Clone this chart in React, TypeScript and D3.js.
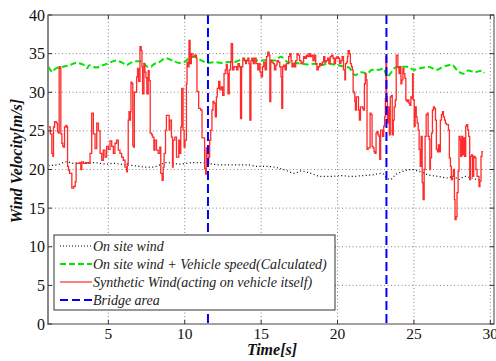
import React, { useRef, useEffect } from 'react';
import * as d3 from 'd3';

// Synthetic wind (red), time [s] / velocity [m/s]
const synT = [
  1.09, 1.2, 1.3, 1.37, 1.41, 1.48, 1.59, 1.67, 1.74, 1.78, 1.85, 1.89, 1.96, 2.02, 2.07, 2.13, 2.22, 2.28, 2.33, 2.39,
  2.46, 2.61, 2.72, 2.83, 2.89, 2.98, 3.11, 3.2, 3.26, 3.37, 3.5, 3.7, 3.8, 3.91, 4.02, 4.13, 4.24, 4.35, 4.46, 4.57,
  4.67, 4.78, 4.89, 5.0, 5.11, 5.22, 5.33, 5.43, 5.54, 5.65, 5.76, 5.87, 5.98, 6.09, 6.2, 6.24, 6.3, 6.35, 6.4, 6.45,
  6.48, 6.55, 6.6, 6.65, 6.7, 6.85, 6.91, 6.98, 7.07, 7.15, 7.2, 7.24, 7.33, 7.39, 7.46, 7.52, 7.61, 7.67, 7.74, 7.83,
  7.89, 7.98, 8.04, 8.15, 8.26, 8.37, 8.43, 8.52, 8.59, 8.65, 8.74, 8.8, 8.91, 8.98, 9.02, 9.13, 9.2, 9.24, 9.35, 9.46,
  9.61, 9.67, 9.74, 9.8, 9.89, 9.96, 10.02, 10.11, 10.15, 10.22, 10.28, 10.35, 10.43, 10.54, 10.65, 10.76, 10.8, 10.91, 11.04, 11.13,
  11.22, 11.3, 11.37, 11.41, 11.48, 11.52, 11.57, 11.63, 11.7, 11.78, 11.85, 11.91, 12.0, 12.07, 12.13, 12.22, 12.3, 12.39, 12.48, 12.57,
  12.65, 12.72, 12.78, 12.83, 12.91, 13.0, 13.04, 13.13, 13.22, 13.3, 13.39, 13.48, 13.57, 13.65, 13.72, 13.8, 13.91, 13.98, 14.04, 14.13,
  14.2, 14.26, 14.33, 14.39, 14.48, 14.57, 14.67, 14.78, 14.87, 14.93, 15.0, 15.09, 15.17, 15.26, 15.35, 15.43, 15.52, 15.57, 15.63, 15.7,
  15.78, 15.87, 15.96, 16.04, 16.13, 16.22, 16.3, 16.35, 16.41, 16.48, 16.57, 16.65, 16.74, 16.8, 16.87, 16.96, 17.02, 17.09, 17.17, 17.26,
  17.35, 17.43, 17.52, 17.61, 17.7, 17.78, 17.87, 17.96, 18.04, 18.13, 18.22, 18.3, 18.39, 18.48, 18.57, 18.65, 18.74, 18.83, 18.91, 19.0,
  19.09, 19.17, 19.26, 19.35, 19.43, 19.52, 19.61, 19.7, 19.78, 19.87, 19.96, 20.04, 20.13, 20.22, 20.3, 20.39, 20.48, 20.52, 20.6, 20.65,
  20.69, 20.78, 20.84, 20.91, 20.97, 21.02, 21.08, 21.13, 21.17, 21.23, 21.3, 21.37, 21.43, 21.5, 21.56, 21.65, 21.69, 21.76, 21.82, 21.87,
  21.93, 22.0, 22.06, 22.13, 22.19, 22.26, 22.32, 22.39, 22.45, 22.52, 22.58, 22.65, 22.71, 22.76, 22.82, 22.89, 22.95, 23.02, 23.08, 23.13,
  23.17, 23.21, 23.26, 23.3, 23.34, 23.39, 23.45, 23.52, 23.58, 23.65, 23.71, 23.78, 23.84, 23.91, 23.95, 24.02, 24.08, 24.15, 24.21, 24.28,
  24.34, 24.41, 24.47, 24.54, 24.6, 24.67, 24.73, 24.8, 24.87, 24.91, 24.95, 25.02, 25.08, 25.15, 25.21, 25.28, 25.34, 25.41, 25.47, 25.54,
  25.6, 25.67, 25.73, 25.8, 25.87, 25.93, 26.0, 26.04, 26.08, 26.15, 26.21, 26.28, 26.34, 26.41, 26.47, 26.54, 26.6, 26.67, 26.73, 26.8,
  26.87, 26.93, 27.0, 27.06, 27.13, 27.19, 27.26, 27.32, 27.39, 27.45, 27.52, 27.58, 27.65, 27.69, 27.76, 27.82, 27.89, 27.95, 28.02, 28.06,
  28.13, 28.19, 28.26, 28.32, 28.39, 28.45, 28.52, 28.58, 28.65, 28.71, 28.78, 28.84, 28.91, 29.0, 29.06, 29.13, 29.19, 29.26, 29.32, 29.39,
  29.45, 29.52,
];
const synV = [
  25.5, 24.6, 22.1, 21.7, 25.5, 26.2, 26.0, 24.9, 24.7, 33.3, 33.1, 24.6, 23.4, 23.0, 22.9, 25.5, 25.7, 25.5, 20.4, 19.9,
  19.5, 17.6, 17.8, 18.4, 20.8, 20.8, 20.9, 20.0, 21.0, 20.8, 20.9, 20.8, 22.1, 27.3, 24.6, 22.7, 26.0, 25.0, 22.1, 21.2,
  22.5, 21.6, 23.0, 22.6, 23.7, 23.0, 22.1, 23.4, 23.8, 22.5, 22.1, 21.6, 21.2, 20.3, 19.7, 20.8, 26.4, 27.5, 26.4, 27.5,
  31.3, 31.1, 23.1, 22.9, 30.0, 32.0, 33.1, 31.4, 35.9, 35.4, 33.3, 29.8, 33.7, 32.6, 31.9, 29.8, 32.8, 31.5, 24.7, 24.5,
  24.2, 22.5, 23.8, 22.5, 22.1, 22.9, 19.5, 18.6, 20.3, 22.1, 25.1, 27.0, 27.0, 25.1, 26.4, 24.2, 20.3, 23.8, 24.2, 21.6,
  23.8, 22.1, 25.5, 30.5, 25.1, 22.9, 23.8, 31.1, 33.9, 33.3, 36.7, 33.7, 35.0, 34.6, 34.8, 34.4, 30.1, 27.9, 27.7, 24.1,
  24.1, 20.1, 19.4, 22.8, 22.8, 20.8, 21.6, 23.8, 25.1, 27.7, 28.8, 28.6, 26.8, 29.4, 30.5, 31.4, 30.3, 30.7, 29.6, 32.4,
  32.9, 33.6, 32.4, 29.8, 32.9, 33.9, 36.3, 32.9, 33.3, 33.3, 32.9, 33.7, 33.3, 26.6, 33.3, 34.4, 34.1, 33.7, 34.1, 34.4,
  33.7, 26.4, 34.1, 34.4, 33.7, 34.4, 33.7, 32.9, 33.7, 32.6, 32.0, 33.3, 33.9, 32.9, 34.6, 35.2, 34.8, 28.8, 34.1, 33.9,
  33.7, 32.9, 33.5, 34.1, 33.9, 33.3, 32.0, 27.9, 33.3, 33.5, 32.9, 33.7, 33.7, 34.6, 35.0, 34.1, 33.3, 33.7, 33.3, 34.1,
  35.0, 34.8, 34.1, 33.7, 33.9, 34.6, 34.4, 34.8, 34.6, 35.0, 34.6, 34.8, 34.1, 34.8, 33.7, 32.9, 33.3, 33.7, 33.5, 33.9,
  34.6, 33.9, 34.1, 34.4, 33.7, 34.6, 34.8, 34.4, 33.7, 34.4, 34.6, 34.4, 33.7, 34.1, 34.6, 32.9, 31.6, 33.7, 33.9, 34.6,
  35.4, 35.0, 33.7, 33.3, 32.9, 30.1, 29.9, 28.8, 27.7, 29.4, 29.4, 27.7, 26.4, 28.1, 28.1, 27.9, 27.7, 31.1, 32.4, 31.6,
  22.6, 22.8, 22.8, 27.3, 27.1, 23.0, 22.8, 22.3, 22.1, 24.7, 24.9, 24.5, 24.3, 21.3, 25.1, 25.1, 24.3, 25.6, 26.8, 29.2,
  34.6, 29.4, 26.0, 26.4, 28.1, 24.5, 29.4, 29.6, 24.5, 26.4, 28.1, 29.0, 34.8, 34.8, 33.3, 32.4, 33.3, 31.1, 31.6, 33.1,
  32.4, 31.8, 29.0, 28.8, 29.0, 28.6, 28.3, 29.4, 29.2, 32.4, 29.0, 25.6, 28.1, 26.8, 26.0, 25.1, 22.6, 20.4, 24.3, 18.3,
  16.1, 20.0, 24.3, 27.1, 27.3, 24.3, 23.9, 20.0, 21.5, 24.7, 27.7, 28.1, 27.9, 26.4, 22.6, 22.3, 23.2, 22.3, 26.4, 27.1,
  27.5, 26.8, 26.4, 26.0, 25.8, 25.8, 25.1, 21.5, 20.4, 18.7, 19.1, 20.0, 16.1, 13.5, 13.9, 17.0, 19.8, 24.3, 23.9, 21.7,
  24.3, 21.9, 24.1, 21.7, 25.6, 25.8, 25.1, 24.3, 18.7, 21.7, 21.9, 19.1, 21.7, 21.5, 20.0, 19.1, 19.1, 17.8, 18.5, 21.7,
  22.3, 22.3,
];

// On site wind + vehicle speed (green)
const calcT = [
  1.08, 1.2, 1.37, 1.5, 1.59, 2.02, 2.46, 2.89, 3.33, 3.6, 3.76, 4.2, 4.63, 5.07, 5.3, 5.5, 5.93, 6.2, 6.37, 6.8,
  7.1, 7.24, 7.57, 7.8, 7.89, 8.33, 8.76, 9.2, 9.63, 9.96, 10.28, 10.65, 11.09, 11.52, 11.96, 12.39, 12.83, 13.26, 13.7, 14.13,
  14.57, 15.0, 15.43, 15.87, 16.3, 16.74, 17.17, 17.61, 18.04, 18.48, 18.91, 19.35, 19.78, 20.22, 20.73, 21.17, 21.4, 21.6, 21.93, 22.26,
  22.69, 23.02, 23.23, 23.45, 23.78, 24.21, 24.65, 24.97, 25.41, 25.95, 26.5, 26.82, 27.26, 27.47, 27.8, 28.23, 28.56, 29.0, 29.43, 29.6,
];
const calcV = [
  33.3, 32.9, 32.6, 33.0, 33.1, 33.3, 33.5, 33.8, 33.6, 33.1, 33.5, 33.2, 33.5, 33.8, 34.0, 34.1, 33.8, 33.5, 33.7, 34.0,
  34.0, 33.9, 33.3, 33.3, 33.5, 33.9, 34.4, 34.1, 33.8, 33.9, 34.4, 34.6, 34.1, 33.8, 33.9, 33.8, 33.9, 33.9, 34.2, 34.1,
  34.1, 34.1, 34.2, 34.1, 34.6, 33.9, 33.8, 33.7, 33.6, 33.7, 33.5, 33.7, 33.6, 33.4, 33.2, 32.2, 32.5, 32.6, 32.4, 32.9,
  32.9, 33.1, 32.0, 32.4, 33.2, 33.3, 33.3, 32.9, 33.1, 33.3, 32.9, 33.2, 33.5, 33.6, 32.9, 32.4, 32.8, 32.6, 32.8, 32.5,
];

// On site wind (black)
const siteT = [
  1.08, 1.63, 2.28, 2.72, 3.15, 3.59, 4.02, 4.46, 4.89, 5.33, 5.76, 6.2, 6.63, 7.07, 7.5, 7.93, 8.37, 8.8, 9.24, 9.67,
  10.11, 10.54, 10.98, 11.41, 11.85, 12.17, 12.83, 13.48, 14.13, 14.78, 15.43, 16.09, 16.74, 17.17, 17.61, 18.26, 18.91, 19.57, 20.22, 20.95,
  21.6, 22.26, 22.91, 23.23, 23.45, 23.78, 24.32, 24.87, 25.3, 25.95, 26.6, 27.26, 27.58, 27.9, 28.34, 28.78, 29.22, 29.43,
];
const siteV = [
  20.5, 20.6, 21.0, 20.8, 20.9, 20.8, 20.9, 20.8, 20.7, 20.8, 20.7, 20.6, 20.5, 20.4, 20.3, 20.3, 20.6, 20.9, 20.8, 20.7,
  20.8, 20.9, 20.9, 20.8, 20.7, 20.6, 20.6, 20.6, 20.6, 20.4, 20.4, 20.2, 19.8, 19.5, 19.8, 19.5, 19.1, 19.1, 19.2, 19.1,
  19.2, 19.3, 19.5, 18.9, 18.7, 19.3, 19.8, 20.0, 19.8, 19.3, 19.1, 18.9, 19.2, 18.7, 19.1, 18.9, 18.7, 18.8,
];

const bridgeT = [11.52, 23.2];
const xTicks = [5, 10, 15, 20, 25, 30];
const yTicks = [0, 5, 10, 15, 20, 25, 30, 35, 40];

const legendItems = [
  { label: 'On site wind', color: '#000', dash: '1,2', width: 1.2 },
  { label: 'On site wind + Vehicle speed(Calculated)', color: '#00e600', dash: '6,3', width: 1.8 },
  { label: 'Synthetic Wind(acting on vehicle itself)', color: '#ff0000', dash: null, width: 1 },
  { label: 'Bridge area', color: '#0000ff', dash: '8,4', width: 1.8 },
];

export default function App() {
  const svgRef = useRef<SVGSVGElement>(null);

  useEffect(() => {
    const svg = d3.select(svgRef.current);
    svg.selectAll('*').remove();
    const width = 496;
    const height = 361;
    const left = 48, right = 494, top = 15, bottom = 324;
    const serif = "'Liberation Serif'";

    const x = d3.scaleLinear().domain([1.05, 30.24]).range([left, right]);
    const y = d3.scaleLinear().domain([0, 40]).range([bottom, top]);

    svg.append('rect').attr('width', width).attr('height', height).attr('fill', 'white');

    svg.append('defs').append('clipPath').attr('id', 'plotclip')
      .append('rect').attr('x', left).attr('y', top).attr('width', right - left).attr('height', bottom - top);

    // Grid
    const grid = svg.append('g').attr('stroke', '#666').attr('stroke-dasharray', '1,2.5').attr('stroke-width', 0.8);
    xTicks.forEach((t) => {
      grid.append('line').attr('x1', x(t)).attr('x2', x(t)).attr('y1', top).attr('y2', bottom);
    });
    yTicks.slice(1, -1).forEach((v) => {
      grid.append('line').attr('x1', left).attr('x2', right).attr('y1', y(v)).attr('y2', y(v));
    });

    const plot = svg.append('g').attr('clip-path', 'url(#plotclip)');

    const mk = (ts: number[], vs: number[]) => ts.map((t, i) => [t, vs[i]] as [number, number]);

    // On site wind
    plot.append('path').datum(mk(siteT, siteV))
      .attr('d', d3.line().x((d) => x(d[0])).y((d) => y(d[1])).curve(d3.curveMonotoneX))
      .attr('fill', 'none').attr('stroke', '#000').attr('stroke-width', 1.2).attr('stroke-dasharray', '1,2.5');

    // Calculated
    plot.append('path').datum(mk(calcT, calcV))
      .attr('d', d3.line().x((d) => x(d[0])).y((d) => y(d[1])).curve(d3.curveMonotoneX))
      .attr('fill', 'none').attr('stroke', '#00e600').attr('stroke-width', 2).attr('stroke-dasharray', '6,3');

    // Synthetic wind
    plot.append('path').datum(mk(synT, synV))
      .attr('d', d3.line().x((d) => x(d[0])).y((d) => y(d[1])).curve(d3.curveStepAfter))
      .attr('fill', 'none').attr('stroke', '#ff2a2a').attr('stroke-width', 1.3);

    // Bridge area
    bridgeT.forEach((t) => {
      plot.append('line').attr('x1', x(t)).attr('x2', x(t)).attr('y1', top).attr('y2', bottom)
        .attr('stroke', '#0000ff').attr('stroke-width', 2).attr('stroke-dasharray', '9,4');
    });

    // Frame
    svg.append('rect').attr('x', left).attr('y', top).attr('width', right - left).attr('height', bottom - top)
      .attr('fill', 'none').attr('stroke', '#444').attr('stroke-width', 1);
    svg.append('line').attr('x1', left).attr('x2', left).attr('y1', top).attr('y2', bottom + 1)
      .attr('stroke', '#888').attr('stroke-width', 2);

    const ticks = svg.append('g').attr('stroke', '#333').attr('stroke-width', 1);
    xTicks.forEach((t) => {
      ticks.append('line').attr('x1', x(t)).attr('x2', x(t)).attr('y1', bottom).attr('y2', bottom - 4);
      ticks.append('line').attr('x1', x(t)).attr('x2', x(t)).attr('y1', top).attr('y2', top + 4);
    });
    yTicks.forEach((v) => {
      ticks.append('line').attr('x1', left).attr('x2', left + 4).attr('y1', y(v)).attr('y2', y(v));
      ticks.append('line').attr('x1', right).attr('x2', right - 4).attr('y1', y(v)).attr('y2', y(v));
    });

    // Tick labels
    xTicks.forEach((t) => {
      svg.append('text').attr('x', x(t)).attr('y', bottom + 15).attr('text-anchor', 'middle')
        .style('font-family', serif).style('font-size', '15.5px').attr('fill', '#111').text(t);
    });
    yTicks.forEach((v) => {
      svg.append('text').attr('x', left - 3).attr('y', y(v) + 5.5).attr('text-anchor', 'end')
        .style('font-family', serif).style('font-size', '16px').attr('fill', '#111').text(v);
    });

    // Axis titles
    svg.append('text').attr('x', 272).attr('y', 355).attr('text-anchor', 'middle')
      .style('font-family', serif).style('font-size', '16px').style('font-style', 'italic').style('font-weight', 'bold')
      .attr('fill', '#111').text('Time[s]');
    svg.append('text').attr('transform', 'translate(22,161) rotate(-90)').attr('text-anchor', 'middle')
      .style('font-family', serif).style('font-size', '16px').style('font-style', 'italic').style('font-weight', 'bold')
      .attr('fill', '#111').text('Wind Velocity[m/s]');

    // Legend
    const lg = svg.append('g').attr('transform', 'translate(54,235)');
    lg.append('rect').attr('width', 281).attr('height', 75).attr('fill', 'white').attr('stroke', '#333').attr('stroke-width', 1);
    legendItems.forEach((it, i) => {
      const yy = 11 + i * 18;
      const ln = lg.append('line').attr('x1', 6).attr('x2', 38).attr('y1', yy).attr('y2', yy)
        .attr('stroke', it.color).attr('stroke-width', it.width);
      if (it.dash) ln.attr('stroke-dasharray', it.dash);
      lg.append('text').attr('x', 39).attr('y', yy + 4.5)
        .style('font-family', serif).style('font-size', '14px').style('font-style', 'italic').attr('fill', '#222')
        .text(it.label);
    });
  }, []);

  return (
    <svg ref={svgRef} width={496} height={361}
      style={{ position: 'absolute', left: 0, top: 0, display: 'block' }} />
  );
}
